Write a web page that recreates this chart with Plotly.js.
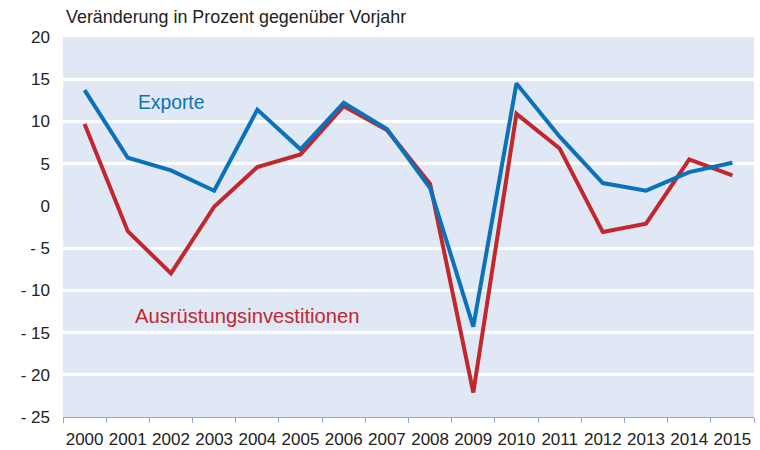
<!DOCTYPE html>
<html>
<head>
<meta charset="utf-8">
<script src="https://cdn.plot.ly/plotly-3.0.1.min.js"></script>
<style>html,body{margin:0;padding:0;background:#fff}#chart{width:760px;height:450px}</style>
</head>
<body>
<div id="chart"></div>
<script>
const years = ["2000","2001","2002","2003","2004","2005","2006","2007","2008","2009","2010","2011","2012","2013","2014","2015"];
const exporte = [13.7, 5.7, 4.2, 1.8, 11.4, 6.7, 12.2, 9.1, 2.1, -14.3, 14.5, 8.2, 2.7, 1.8, 4.0, 5.1];
const ausruestung = [9.7, -3.0, -8.0, -0.1, 4.6, 6.1, 11.8, 9.0, 2.6, -22.1, 10.9, 6.8, -3.1, -2.1, 5.5, 3.6];
const yTickVals = [-25, -20, -15, -10, -5, 0, 5, 10, 15, 20];
const yTickText = ["- 25", "- 20", "- 15", "- 10", "- 5", "0", "5", "10", "15", "20"];
const gridVals = [-20, -15, -10, -5, 5, 10, 15, 20];

const blue = "#0a72bb";
const red = "#c1272d";
const font = "Liberation Sans, Arial, sans-serif";

const traces = [
  {x: years, y: ausruestung, type: "scatter", mode: "lines", line: {color: red, width: 4}, hoverinfo: "skip"},
  {x: years, y: exporte, type: "scatter", mode: "lines", line: {color: blue, width: 4}, hoverinfo: "skip"}
];

const layout = {
  width: 760, height: 450,
  margin: {l: 63, r: 6, t: 37, b: 32.5},
  paper_bgcolor: "#ffffff",
  plot_bgcolor: "#e0e8f5",
  showlegend: false,
  font: {family: font, color: "#222222", size: 17},
  xaxis: {
    type: "category",
    range: [-0.5, 15.5],
    tickson: "boundaries",
    tickangle: 0,
    ticks: "outside", ticklen: 5, tickcolor: "#8eaadb", tickwidth: 1,
    showline: true, linecolor: "#8eaadb", linewidth: 1,
    showgrid: false, zeroline: false,
    ticklabelstandoff: 7,
    tickfont: {size: 17, color: "#222222"},
    fixedrange: true
  },
  yaxis: {
    range: [-25, 20],
    tickvals: gridVals,
    showticklabels: false,
    showgrid: true, gridcolor: "#ffffff", gridwidth: 3,
    zeroline: false, showline: false, ticks: "",
    fixedrange: true
  },
  yaxis2: {
    overlaying: "y", side: "left",
    range: [-25, 20],
    tickvals: yTickVals, ticktext: yTickText,
    showgrid: false, zeroline: false, showline: false, ticks: "",
    ticklabelstandoff: 12,
    tickfont: {size: 17, color: "#222222"},
    fixedrange: true
  },
  annotations: [
    {text: "Veränderung in Prozent gegenüber Vorjahr", xref: "paper", yref: "paper",
     x: 0.002, y: 1, yshift: 20, xanchor: "left", yanchor: "middle", showarrow: false,
     font: {size: 17.9, color: "#222222", family: font}},
    {text: "Exporte", xref: "paper", yref: "y", x: 0.106, y: 12.2,
     xanchor: "left", yanchor: "middle", showarrow: false,
     font: {size: 19.3, color: blue, family: font}},
    {text: "Ausrüstungsinvestitionen", xref: "paper", yref: "y", x: 0.102, y: -13.07,
     xanchor: "left", yanchor: "middle", showarrow: false,
     font: {size: 20.2, color: red, family: font}}
  ]
};

// invisible trace so that the label axis (yaxis2) is drawn
traces.push({x: years, y: exporte, yaxis: "y2", type: "scatter", mode: "lines", line: {width: 0}, opacity: 0, hoverinfo: "skip"});

Plotly.newPlot("chart", traces, layout, {staticPlot: true, displayModeBar: false});
</script>
</body>
</html>
